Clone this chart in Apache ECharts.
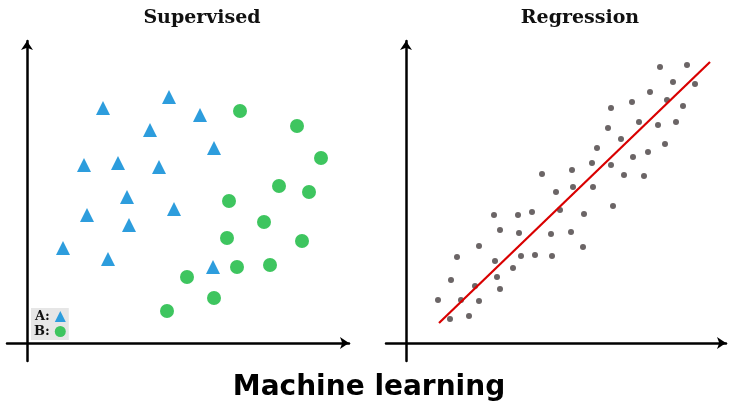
<!DOCTYPE html>
<html>
<head>
<meta charset="utf-8">
<script src="https://cdn.jsdelivr.net/npm/echarts@6/dist/echarts.min.js"></script>
<style>html,body{margin:0;padding:0;background:#fff;}#c{width:732px;height:405px;}</style>
</head>
<body>
<div id="c"></div>
<script>
// Panel titles
var panelTitles = ['Supervised', 'Regression'];
var mainTitle = 'Machine learning';
var legendNames = ['A', 'B'];

// Supervised panel: class A (triangles) and class B (circles), [x, y]
var classA = [
  [76, 235], [142, 246], [173, 228], [123, 213], [187, 195],
  [57, 178], [91, 180], [132, 176], [100, 146], [60, 128],
  [147, 134], [102, 118], [36, 95], [81, 84], [186, 76]
];
var classB = [
  [213, 232], [270, 217], [294, 185], [252, 157], [282, 151],
  [202, 142], [237, 121], [200, 105], [275, 102], [210, 76],
  [243, 78], [160, 66], [187, 45], [140, 32]
];

// Regression panel: sample points and fitted line endpoints
var regPoints = [
  [32, 43], [44, 24], [45, 63], [51, 86], [55, 43], [63, 27], [69, 57], [73, 97], [73, 42],
  [88, 128], [89, 82], [91, 66], [94, 113], [94, 54], [107, 75], [112, 128], [113, 110],
  [115, 87], [126, 131], [129, 88], [136, 169], [145, 109], [146, 87], [150, 151], [154, 133],
  [165, 111], [166, 173], [167, 156], [177, 96], [178, 129], [186, 180], [187, 156], [191, 195],
  [202, 215], [205, 178], [205, 235], [207, 137], [215, 204], [218, 168], [226, 241], [227, 186],
  [233, 221], [238, 167], [242, 191], [244, 251], [252, 218], [254, 276], [259, 199], [261, 243],
  [267, 261], [270, 221], [277, 237], [281, 278], [289, 259]
];
var fitLine = [[33, 20], [304, 281]];

function axisCommon(extra) {
  var o = {
    type: 'value',
    axisLine: {
      show: true, onZero: true,
      symbol: ['none', 'arrow'], symbolSize: [9, 9],
      lineStyle: { color: '#000', width: 2.5 }
    },
    axisTick: { show: false },
    axisLabel: { show: false },
    splitLine: { show: false }
  };
  for (var k in extra) o[k] = extra[k];
  return o;
}

var chart = echarts.init(document.getElementById('c'), null, { renderer: 'canvas' });
chart.setOption({
  animation: false,
  backgroundColor: '#fff',
  title: [
    { text: panelTitles[0], left: 202, top: 9, textAlign: 'center', padding: 0,
      textStyle: { fontFamily: 'DejaVu Serif', fontWeight: 'bold', fontSize: 19, color: '#111' } },
    { text: panelTitles[1], left: 580, top: 9, textAlign: 'center', padding: 0,
      textStyle: { fontFamily: 'DejaVu Serif', fontWeight: 'bold', fontSize: 19, color: '#111' } },
    { text: mainTitle, left: 369, top: 374, textAlign: 'center', padding: 0,
      textStyle: { fontFamily: 'DejaVu Sans', fontWeight: 'bold', fontSize: 28, color: '#000' } }
  ],
  legend: {
    data: [{ name: legendNames[0], icon: 'triangle' }, { name: legendNames[1], icon: 'circle' }],
    formatter: '{name}:',
    orient: 'vertical',
    align: 'right',
    left: 31, top: 308,
    padding: [2, 3],
    itemGap: 2,
    itemWidth: 11, itemHeight: 11,
    backgroundColor: '#e6e6e6',
    selectedMode: false,
    textStyle: { fontFamily: 'DejaVu Serif', fontWeight: 'bold', fontSize: 13, color: '#111', padding: [0, 0, 0, 0] }
  },
  grid: [
    { left: 7, right: 732 - 349, top: 41, bottom: 44 },
    { left: 386, right: 732 - 726, top: 41, bottom: 44 }
  ],
  xAxis: [
    axisCommon({ gridIndex: 0, min: -20, max: 322 }),
    axisCommon({ gridIndex: 1, min: -20, max: 320 })
  ],
  yAxis: [
    axisCommon({ gridIndex: 0, min: -18, max: 302 }),
    axisCommon({ gridIndex: 1, min: -18, max: 302 })
  ],
  series: [
    { name: legendNames[0], type: 'scatter', xAxisIndex: 0, yAxisIndex: 0, data: classA,
      symbol: 'triangle', symbolSize: [14, 14], itemStyle: { color: '#2d9ddd', opacity: 1 } },
    { name: legendNames[1], type: 'scatter', xAxisIndex: 0, yAxisIndex: 0, data: classB,
      symbol: 'circle', symbolSize: 14, itemStyle: { color: '#3ec55f', opacity: 1 } },
    { name: 'points', type: 'scatter', xAxisIndex: 1, yAxisIndex: 1, data: regPoints,
      symbol: 'circle', symbolSize: 6, itemStyle: { color: '#6b6566', opacity: 1 } },
    { name: 'fit', type: 'line', xAxisIndex: 1, yAxisIndex: 1, data: fitLine,
      symbol: 'none', lineStyle: { color: '#d90000', width: 2.2 }, z: 3 }
  ]
});
</script>
</body>
</html>
